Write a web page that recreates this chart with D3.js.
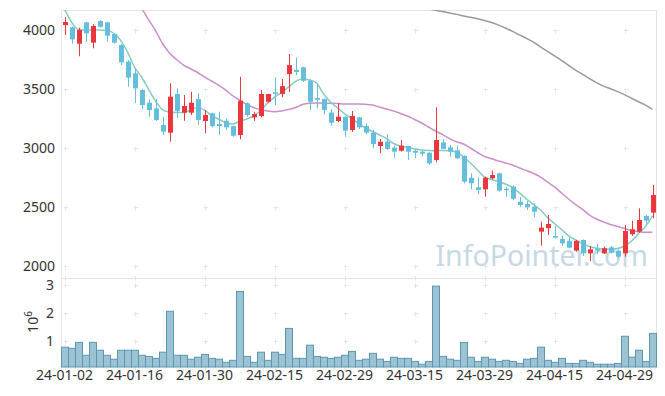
<!DOCTYPE html>
<html>
<head>
<meta charset="utf-8">
<script src="https://cdn.jsdelivr.net/npm/d3@7"></script>
<style>
  body { margin: 0; background: #fff; }
  svg { display: block; }
  svg text { font-family: "Noto Sans", "Open Sans", sans-serif; }
</style>
</head>
<body>
<div id="chart"></div>
<script>
// trading days shown (KRX, 2024)
const dates = [
  "2024-01-02","2024-01-03","2024-01-04","2024-01-05","2024-01-08","2024-01-09","2024-01-10","2024-01-11","2024-01-12","2024-01-15",
  "2024-01-16","2024-01-17","2024-01-18","2024-01-19","2024-01-22","2024-01-23","2024-01-24","2024-01-25","2024-01-26","2024-01-29",
  "2024-01-30","2024-01-31","2024-02-01","2024-02-02","2024-02-05","2024-02-06","2024-02-07","2024-02-08","2024-02-13","2024-02-14",
  "2024-02-15","2024-02-16","2024-02-19","2024-02-20","2024-02-21","2024-02-22","2024-02-23","2024-02-26","2024-02-27","2024-02-28",
  "2024-02-29","2024-03-04","2024-03-05","2024-03-06","2024-03-07","2024-03-08","2024-03-11","2024-03-12","2024-03-13","2024-03-14",
  "2024-03-15","2024-03-18","2024-03-19","2024-03-20","2024-03-21","2024-03-22","2024-03-25","2024-03-26","2024-03-27","2024-03-28",
  "2024-03-29","2024-04-01","2024-04-02","2024-04-03","2024-04-04","2024-04-05","2024-04-08","2024-04-09","2024-04-11","2024-04-12",
  "2024-04-15","2024-04-16","2024-04-17","2024-04-18","2024-04-19","2024-04-22","2024-04-23","2024-04-24","2024-04-25","2024-04-26",
  "2024-04-29","2024-04-30","2024-05-02","2024-05-03","2024-05-07"
];

const open = [
  4042,4023,3884,4065,3893,4076,4065,3966,3873,3732,
  3633,3492,3384,3336,3195,3130,3458,3299,3299,3415,
  3229,3294,3203,3231,3186,3110,3379,3260,3271,3392,
  3472,3458,3627,3661,3684,3570,3424,3415,3300,3229,
  3265,3153,3260,3186,3130,3017,3053,3003,2977,3017,
  2977,2969,2960,2898,3048,3006,2980,2932,2748,2667,
  2650,2743,2785,2655,2672,2545,2525,2503,2291,2320,
  2254,2229,2214,2130,2220,2107,2144,2107,2158,2130,
  2107,2269,2291,2424,2452
];
const high = [
  4108,4030,4020,4070,4050,4085,4070,3972,3880,3745,
  3675,3500,3413,3415,3265,3548,3506,3449,3477,3463,
  3322,3300,3308,3250,3190,3604,3385,3308,3492,3460,
  3599,3585,3797,3768,3690,3580,3548,3420,3331,3379,
  3270,3314,3265,3210,3153,3076,3116,3020,3068,3020,
  2985,2985,2965,3345,3074,3025,3020,2940,2785,2752,
  2757,2808,2790,2672,2685,2585,2553,2530,2375,2432,
  2341,2254,2243,2220,2225,2169,2186,2164,2169,2140,
  2347,2384,2489,2432,2686
];
const low = [
  3958,3884,3778,3900,3845,4020,3901,3885,3703,3520,
  3381,3328,3265,3230,3110,3053,3252,3231,3280,3195,
  3124,3175,3110,3150,3095,3074,3265,3231,3260,3385,
  3364,3430,3477,3619,3560,3322,3336,3285,3189,3220,
  3096,3138,3160,3115,2998,2955,2985,2918,2970,2898,
  2915,2930,2856,2879,2989,2926,2907,2700,2650,2608,
  2587,2735,2630,2587,2557,2500,2475,2413,2172,2263,
  2232,2169,2150,2121,2085,2042,2102,2102,2105,2065,
  2079,2255,2280,2360,2404
];
const close = [
  4068,3921,4000,3972,4034,4028,3952,3893,3726,3596,
  3506,3364,3322,3237,3138,3435,3314,3356,3384,3237,
  3280,3186,3186,3175,3104,3401,3280,3288,3458,3458,
  3460,3525,3703,3644,3570,3392,3409,3322,3214,3265,
  3147,3271,3175,3130,3034,3053,2992,2969,3019,2969,
  2960,2952,2870,3068,2992,2969,2913,2714,2701,2644,
  2748,2771,2638,2644,2570,2517,2497,2460,2325,2356,
  2243,2192,2155,2212,2107,2141,2136,2150,2113,2079,
  2297,2311,2390,2384,2602
];
const volume = [
  780000,740000,950000,490000,950000,670000,490000,350000,670000,670000,
  670000,490000,450000,380000,600000,2060000,490000,490000,350000,420000,
  520000,380000,350000,240000,310000,2770000,450000,240000,600000,310000,
  600000,520000,1450000,380000,380000,850000,450000,420000,380000,420000,
  490000,630000,310000,350000,560000,350000,270000,420000,380000,380000,
  270000,170000,270000,2960000,450000,350000,310000,950000,420000,270000,
  420000,350000,270000,310000,270000,200000,350000,380000,780000,310000,
  240000,380000,200000,200000,310000,240000,170000,170000,170000,200000,
  1170000,420000,670000,270000,1270000
];

// moving averages (null = outside the view)
const ma5 = [
  4178,4068,4004,4000,4000,4000,3996,3975,3915,3814,
  3686,3602,3500,3398,3326,3305,3301,3301,3322,3343,
  3322,3275,3246,3216,3203,3225,3246,3271,3318,3381,
  3432,3470,3517,3564,3585,3576,3551,3458,3390,3339,
  3292,3250,3208,3169,3140,3110,3080,3038,3017,3004,
  2991,2983,2979,2977,2979,2977,2966,2924,2873,2814,
  2754,2733,2716,2695,2665,2619,2568,2521,2475,2411,
  2360,2309,2258,2220,2191,2165,2150,2144,2141,2148,
  2169,2212,2275,2335,2424
];
const ma20 = [
  null,null,null,null,null,null,null,null,null,null,
  4280,4186,4089,3996,3886,3805,3750,3703,3672,3640,
  3602,3568,3534,3492,3445,3407,3369,3343,3326,3314,
  3308,3314,3326,3343,3369,3379,3381,3381,3379,3377,
  3373,3373,3373,3370,3364,3347,3330,3314,3292,3271,
  3242,3212,3178,3144,3114,3080,3053,3034,3000,2962,
  2928,2909,2890,2873,2856,2830,2809,2784,2754,2712,
  2670,2619,2568,2521,2479,2432,2398,2373,2352,2335,
  2318,2301,2291,2286,2286
];
const ma60 = [
  null,null,null,null,null,null,null,null,null,null,
  null,null,null,null,null,null,null,null,null,null,
  null,null,null,null,null,null,null,null,null,null,
  null,null,null,null,null,null,null,null,null,null,
  null,null,null,null,null,null,null,null,null,null,
  null,null,4180,4167,4157,4144,4133,4120,4108,4096,
  4081,4064,4042,4017,3989,3959,3930,3897,3858,3820,
  3781,3742,3701,3661,3625,3589,3555,3525,3502,3478,
  3453,3422,3392,3363,3328
];

const priceTicks = [2000, 2500, 3000, 3500, 4000];
const volumeTicks = [1000000, 2000000, 3000000];
const dateTickEvery = 10;

const width = 665, height = 396;
const left = 61, right = 656;
const priceTop = 10, priceBottom = 278, volBottom = 367;

const svg = d3.select("#chart")
  .append("svg")
  .attr("width", width)
  .attr("height", height);

const data = dates.map((d, i) => ({
  date: d, open: open[i], high: high[i], low: low[i], close: close[i],
  volume: volume[i], ma5: ma5[i], ma20: ma20[i], ma60: ma60[i]
}));

const x = d3.scaleBand()
  .domain(dates)
  .range([left, right])
  .padding(0);

const y = d3.scaleLinear()
  .domain([1898, 4170])
  .range([priceBottom, priceTop]);

const yVol = d3.scaleLinear()
  .domain([0, 3250000])
  .range([369, priceBottom]);

const cx = d => x(d) + x.bandwidth() / 2;
const tickDates = dates.filter((d, i) => i % dateTickEvery === 0);

svg.append("defs").append("clipPath")
  .attr("id", "clip-price")
  .append("rect")
  .attr("x", left).attr("y", priceTop)
  .attr("width", right - left).attr("height", priceBottom - priceTop);

// frame
const frame = svg.append("g").attr("stroke", "#e4e4e4").attr("fill", "none");
frame.append("line").attr("x1", left).attr("x2", right).attr("y1", priceTop + 0.5).attr("y2", priceTop + 0.5);
frame.append("line").attr("x1", left).attr("x2", right).attr("y1", priceBottom + 0.5).attr("y2", priceBottom + 0.5);
frame.append("line").attr("x1", left + 0.5).attr("x2", left + 0.5).attr("y1", priceTop).attr("y2", volBottom + 3);
frame.append("line").attr("x1", right + 0.5).attr("x2", right + 0.5).attr("y1", priceTop).attr("y2", volBottom);

// grid crosses
const crossRows = priceTicks.map(v => y(v)).concat(volumeTicks.map(v => yVol(v)));
const crosses = svg.append("g").attr("stroke", "#e6e6e6").attr("stroke-width", 1);
tickDates.forEach(d => {
  const px = Math.round(cx(d)) + 0.5;
  crossRows.forEach(py => {
    const pyy = Math.round(py) + 0.5;
    crosses.append("line").attr("x1", px - 2).attr("x2", px + 3).attr("y1", pyy).attr("y2", pyy);
    crosses.append("line").attr("x1", px).attr("x2", px).attr("y1", pyy - 2).attr("y2", pyy + 3);
  });
  crosses.append("line").attr("x1", px).attr("x2", px).attr("y1", priceBottom - 2).attr("y2", priceBottom + 3);
  crosses.append("line").attr("x1", px).attr("x2", px).attr("y1", volBottom).attr("y2", volBottom + 3);
});

// watermark
svg.append("text")
  .attr("x", 648)
  .attr("y", 266)
  .attr("text-anchor", "end")
  .style("font-size", "28.5px")
  .style("fill", "#c6d9e5")
  .text("InfoPointer.com");

const styleTicks = g => {
  g.select(".domain").remove();
  g.attr("font-family", null).attr("font-size", null);
  g.selectAll("text")
    .style("font-family", "'Noto Sans', 'Open Sans', sans-serif")
    .style("font-size", "14px")
    .style("fill", "#333");
};

// price axis
svg.append("g")
  .attr("transform", `translate(${left},0)`)
  .call(d3.axisLeft(y).tickValues(priceTicks).tickFormat(d3.format("d")).tickSize(0).tickPadding(6))
  .call(styleTicks);

// volume axis
svg.append("g")
  .attr("transform", `translate(${left},0)`)
  .call(d3.axisLeft(yVol).tickValues(volumeTicks).tickFormat(d => d / 1e6).tickSize(0).tickPadding(7))
  .call(styleTicks);

const unit = svg.append("text")
  .attr("transform", "translate(38,322) rotate(-90)")
  .attr("text-anchor", "middle")
  .style("font-size", "14px")
  .style("fill", "#333");
unit.append("tspan").text("10");
unit.append("tspan").attr("dy", -6).style("font-size", "10px").text("6");

// date axis
svg.append("g")
  .attr("transform", `translate(0,${volBottom})`)
  .call(d3.axisBottom(x).tickValues(tickDates).tickSize(0).tickPadding(3)
    .tickFormat(d => d.slice(2)))
  .call(styleTicks);

// volume bars
svg.append("g")
  .selectAll("rect")
  .data(data)
  .join("rect")
  .attr("x", d => x(d.date) + 0.5)
  .attr("y", d => yVol(d.volume))
  .attr("width", x.bandwidth())
  .attr("height", d => volBottom - yVol(d.volume))
  .attr("fill", "#9bc3d4")
  .attr("stroke", "#5e96b0")
  .attr("stroke-width", 1);

// moving averages
const plot = svg.append("g").attr("clip-path", "url(#clip-price)");
const maLine = key => d3.line()
  .defined(d => d[key] !== null)
  .x(d => cx(d.date))
  .y(d => y(d[key]))
  .curve(d3.curveMonotoneX);

[["ma60", "#9a9a9a"], ["ma20", "#cc8fc9"], ["ma5", "#86cbc1"]].forEach(([key, color]) => {
  plot.append("path")
    .datum(data)
    .attr("fill", "none")
    .attr("stroke", color)
    .attr("stroke-width", 1.5)
    .attr("d", maLine(key));
});

// candles
const up = "#ea373d", down = "#65bedb";
const candle = plot.append("g")
  .selectAll("g")
  .data(data)
  .join("g")
  .attr("fill", d => d.close >= d.open ? up : down)
  .attr("stroke", d => d.close >= d.open ? up : down);

candle.append("line")
  .attr("x1", d => Math.round(cx(d.date)) + 0.5)
  .attr("x2", d => Math.round(cx(d.date)) + 0.5)
  .attr("y1", d => y(d.high))
  .attr("y2", d => y(d.low))
  .attr("stroke-width", 1);

candle.append("rect")
  .attr("x", d => Math.round(cx(d.date)) - 2)
  .attr("y", d => y(Math.max(d.open, d.close)))
  .attr("width", 5)
  .attr("height", d => Math.max(1.5, Math.abs(y(d.open) - y(d.close))))
  .attr("stroke", "none");
</script>
</body>
</html>
